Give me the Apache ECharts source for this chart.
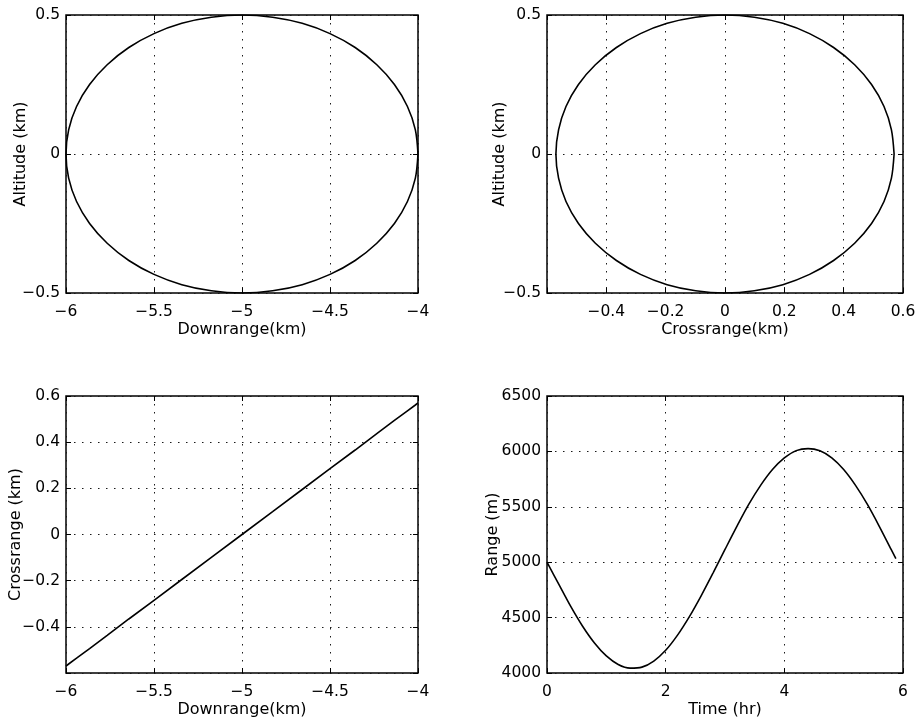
<!DOCTYPE html>
<html>
<head>
<meta charset="utf-8">
<title>Trajectory plots</title>
<script src="https://cdn.jsdelivr.net/npm/echarts@6/dist/echarts.min.js"></script>
<style>
  html, body { margin: 0; padding: 0; background: #fff; }
  #chart { width: 920px; height: 721px; }
</style>
</head>
<body>
<div id="chart"></div>
<script>
// Trajectory samples over one loop, every 10 degrees of the orbit
const downrangeKm = [-4.000, -4.015, -4.060, -4.134, -4.234, -4.357, -4.500, -4.658, -4.826, -5.000,
  -5.174, -5.342, -5.500, -5.643, -5.766, -5.866, -5.940, -5.985, -6.000,
  -5.985, -5.940, -5.866, -5.766, -5.643, -5.500, -5.342, -5.174, -5.000,
  -4.826, -4.658, -4.500, -4.357, -4.234, -4.134, -4.060, -4.015, -4.000];
const crossrangeKm = [0.570, 0.561, 0.536, 0.494, 0.437, 0.366, 0.285, 0.195, 0.099, 0.000,
  -0.099, -0.195, -0.285, -0.366, -0.437, -0.494, -0.536, -0.561, -0.570,
  -0.561, -0.536, -0.494, -0.437, -0.366, -0.285, -0.195, -0.099, 0.000,
  0.099, 0.195, 0.285, 0.366, 0.437, 0.494, 0.536, 0.561, 0.570];
const altitudeKm = [0.000, 0.087, 0.171, 0.250, 0.321, 0.383, 0.433, 0.470, 0.492, 0.500,
  0.492, 0.470, 0.433, 0.383, 0.321, 0.250, 0.171, 0.087, 0.000,
  -0.087, -0.171, -0.250, -0.321, -0.383, -0.433, -0.470, -0.492, -0.500,
  -0.492, -0.470, -0.433, -0.383, -0.321, -0.250, -0.171, -0.087, 0.000];

// Range history
const timeHr = [0, 0.2, 0.4, 0.6, 0.8, 1.0, 1.2, 1.4, 1.6, 1.8, 2.0, 2.2, 2.4, 2.6, 2.8, 3.0,
  3.2, 3.4, 3.6, 3.8, 4.0, 4.2, 4.4, 4.6, 4.8, 5.0, 5.2, 5.4, 5.6, 5.8, 5.88];
const rangeM = [5000, 4800, 4601, 4422, 4271, 4154, 4077, 4044, 4053, 4108, 4205, 4342, 4509, 4699, 4904, 5115,
  5323, 5521, 5693, 5836, 5941, 6007, 6025, 6005, 5941, 5836, 5693, 5521, 5324, 5115, 5032];

// Axis ranges and tick steps for each panel
const downrangeAxis = { min: -6, max: -4, interval: 0.5 };
const altitudeAxis = { min: -0.5, max: 0.5, interval: 0.5 };
const crossrangeAxis = { min: -0.6, max: 0.6, interval: 0.2 };
const timeAxis = { min: 0, max: 6, interval: 2 };
const rangeAxis = { min: 4000, max: 6500, interval: 500 };

const FONT = '"DejaVu Sans", Verdana, sans-serif';
const tickStyle = { fontFamily: FONT, fontSize: 15.5, color: '#000' };
const nameStyle = { fontFamily: FONT, fontSize: 16, color: '#000', lineHeight: 18 };

function fmt(v, hideMin, min) {
  if (hideMin && Math.abs(v - min) < 1e-9) return '';
  const s = String(Math.round(v * 1000) / 1000);
  return s.replace('-', '\u2212');
}

const grids = [
  { left: 66, top: 15, width: 352, height: 278 },
  { left: 547, top: 15, width: 356, height: 278 },
  { left: 66, top: 396, width: 352, height: 277 },
  { left: 547, top: 396, width: 356, height: 277 }
].map(g => Object.assign({ show: true, borderColor: '#000', borderWidth: 1.5, backgroundColor: '#fff' }, g));

const gridLine = { show: true, lineStyle: { color: '#1a1a1a', width: 1, type: [1.5, 6.5] } };
const tick = { show: true, inside: true, length: 5, lineStyle: { color: '#000', width: 1 } };

function mainAxis(dim, gi, range, name, nameGap, labelMargin, hideMin) {
  return Object.assign({
    type: 'value', gridIndex: gi, position: dim === 'x' ? 'bottom' : 'left',
    name: name, nameLocation: 'middle', nameGap: nameGap,
    nameRotate: dim === 'y' ? 90 : 0,
    nameMoveOverlap: false,
    nameTextStyle: nameStyle,
    axisLine: { show: false, onZero: false },
    axisTick: tick,
    axisLabel: Object.assign({ margin: labelMargin, formatter: v => fmt(v, hideMin, range.min) }, tickStyle),
    splitLine: gridLine
  }, range);
}

function mirrorAxis(dim, gi, range) {
  return Object.assign({
    type: 'value', gridIndex: gi, position: dim === 'x' ? 'top' : 'right',
    axisLine: { show: false, onZero: false },
    axisTick: tick,
    axisLabel: { show: false },
    splitLine: { show: false }
  }, range);
}

const xAxes = [
  mainAxis('x', 0, downrangeAxis, 'Downrange(km)', 28, 11, false),
  mainAxis('x', 1, crossrangeAxis, 'Crossrange(km)', 28, 11, true),
  mainAxis('x', 2, downrangeAxis, 'Downrange(km)', 28, 11, false),
  mainAxis('x', 3, timeAxis, 'Time (hr)', 28, 11, false),
  mirrorAxis('x', 0, downrangeAxis),
  mirrorAxis('x', 1, crossrangeAxis),
  mirrorAxis('x', 2, downrangeAxis),
  mirrorAxis('x', 3, timeAxis)
];
const yAxes = [
  mainAxis('y', 0, altitudeAxis, 'Altitude (km)', 36, 6, false),
  mainAxis('y', 1, altitudeAxis, 'Altitude (km)', 38, 6, false),
  mainAxis('y', 2, crossrangeAxis, 'Crossrange (km)', 41, 6, true),
  mainAxis('y', 3, rangeAxis, 'Range (m)', 45, 6, false),
  mirrorAxis('y', 0, altitudeAxis),
  mirrorAxis('y', 1, altitudeAxis),
  mirrorAxis('y', 2, crossrangeAxis),
  mirrorAxis('y', 3, rangeAxis)
];

function pairs(xs, ys) { return xs.map((x, i) => [x, ys[i]]); }

const lineStyle = { color: '#000', width: 1.6 };
function curve(gi, xs, ys, smooth) {
  return {
    type: 'line', xAxisIndex: gi, yAxisIndex: gi, data: pairs(xs, ys),
    showSymbol: false, smooth: smooth, lineStyle: lineStyle, silent: true, animation: false
  };
}

const chart = echarts.init(document.getElementById('chart'), null, { renderer: 'canvas' });
chart.setOption({
  backgroundColor: '#fff',
  animation: false,
  grid: grids,
  xAxis: xAxes,
  yAxis: yAxes,
  series: [
    curve(0, downrangeKm, altitudeKm, 0.3),
    curve(1, crossrangeKm, altitudeKm, 0.3),
    curve(2, downrangeKm, crossrangeKm, false),
    curve(3, timeHr, rangeM, 0.3)
  ]
});
</script>
</body>
</html>
